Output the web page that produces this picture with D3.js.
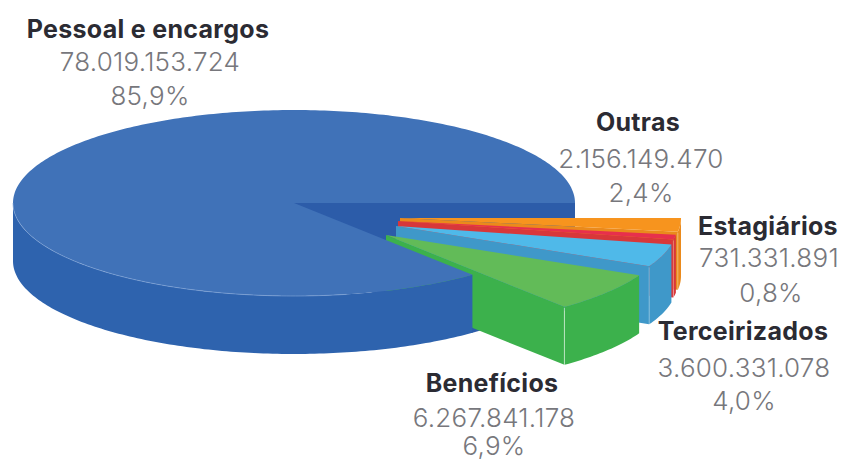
<!DOCTYPE html>
<html>
<head>
<meta charset="utf-8">
<script src="https://cdn.jsdelivr.net/npm/d3@7/dist/d3.min.js"></script>
<style>
html,body{margin:0;padding:0;background:#fff;}
svg{display:block;}
text{font-family:Inter,"Open Sans",sans-serif;text-anchor:middle;}
.name{font-weight:700;font-size:25px;fill:#2b2b33;letter-spacing:0.3px;}
.val{font-weight:300;font-size:26px;fill:#77777c;letter-spacing:0.25px;}
</style>
</head>
<body>
<svg id="chart" width="841" height="461"></svg>
<script>
// Despesas por grupo, em reais, na ordem em que as fatias aparecem no disco
const categories = ["Outras", "Estagiários", "Terceirizados", "Benefícios", "Pessoal e encargos"];
const amounts = [2156149470, 731331891, 3600331078, 6267841178, 78019153724];
const amountLabels = ["2.156.149.470", "731.331.891", "3.600.331.078", "6.267.841.178", "78.019.153.724"];
const shareLabels = ["2,4%", "0,8%", "4,0%", "6,9%", "85,9%"];

// Aparência de cada fatia
const topColors = ["#f7941e", "#e7304c", "#4fb9e9", "#62bb58", "#4072b8"];
const wallColors = ["#ea8a1c", "#d8373a", "#3f98c9", "#3cb14c", "#2e63ae"];
const cutColor = "#2c5ca9";

// Deslocamento do vértice de cada fatia em relação ao centro do disco
const explodeX = [106, 104, 102, 92, 0];
const explodeY = [15, 18, 23, 32, 0];

// Posição dos rótulos: centro e linhas de base
const labelX = [[638, 641, 641], [768, 769, 771], [743, 744, 744], [492, 494, 494], [148, 150, 150]];
const labelY = [[131, 168, 202], [235, 267, 302], [340, 377, 410], [392, 427, 455], [38, 71, 105]];

// Projeção do disco inclinado
const cx = 294, cy = 203, rx = 281, ry = 93, depth = 58;
const svg = d3.select("#chart");

const pie = d3.pie().sort(null).startAngle(0).endAngle(2 * Math.PI);
const arcs = pie(amounts);
const line = d3.line();

const px = (a, dx) => cx + dx + rx * Math.cos(a);
const py = (a, dy) => cy + dy + ry * Math.sin(a);

// Pontos ao longo da borda elíptica entre dois ângulos
function rim(a0, a1, dx, dy, z) {
  const n = Math.max(2, Math.ceil(Math.abs(a1 - a0) * 60));
  return d3.range(n + 1).map(i => {
    const a = a0 + (a1 - a0) * i / n;
    return [px(a, dx), py(a, dy) + z];
  });
}

function wedgeTop(a0, a1, dx, dy) {
  return line([[cx + dx, cy + dy], ...rim(a0, a1, dx, dy, 0)]) + "Z";
}
function outerWall(a0, a1, dx, dy) {
  return line([...rim(a0, a1, dx, dy, 0), ...rim(a1, a0, dx, dy, depth)]) + "Z";
}
function cutWall(a, dx, dy) {
  return line([
    [cx + dx, cy + dy], [px(a, dx), py(a, dy)],
    [px(a, dx), py(a, dy) + depth], [cx + dx, cy + dy + depth]
  ]) + "Z";
}

const main = arcs[4];

// Faces internas do recorte do disco principal
svg.append("path").attr("d", cutWall(main.startAngle, 0, 0)).attr("fill", cutColor);
svg.append("path").attr("d", cutWall(0, 0, 0)).attr("fill", cutColor);
svg.append("path").attr("d", wedgeTop(0, main.startAngle, 0, depth)).attr("fill", cutColor);

// Fatias destacadas, de trás para a frente
arcs.slice(0, 4).forEach((d, i) => {
  const dx = explodeX[i], dy = explodeY[i];
  const g = svg.append("g");
  g.append("path").attr("d", cutWall(d.endAngle, dx, dy)).attr("fill", wallColors[i]);
  g.append("path").attr("d", outerWall(d.startAngle, d.endAngle, dx, dy)).attr("fill", wallColors[i]);
  g.append("path").attr("d", wedgeTop(d.startAngle, d.endAngle, dx, dy)).attr("fill", topColors[i]);
  // Aresta clara na quina frontal
  g.append("line")
    .attr("x1", px(d.endAngle, dx)).attr("x2", px(d.endAngle, dx))
    .attr("y1", py(d.endAngle, dy) + 1).attr("y2", py(d.endAngle, dy) + depth)
    .attr("stroke", "#ffffff").attr("stroke-opacity", i === 3 ? 0.55 : 0.3).attr("stroke-width", 1);
});

// Disco principal, por cima das fatias
const front = Math.PI;
svg.append("path").attr("d", outerWall(main.startAngle, front, 0, 0)).attr("fill", wallColors[4]);
svg.append("path").attr("d", wedgeTop(main.startAngle, main.endAngle, 0, 0)).attr("fill", topColors[4]);
svg.append("path")
  .attr("d", line(rim(main.startAngle + 0.5, front, 0, 0, 0)))
  .attr("fill", "none").attr("stroke", "#86a9da").attr("stroke-opacity", 0.6).attr("stroke-width", 1);

// Rótulos: nome, valor e percentual
categories.forEach((name, i) => {
  svg.append("text").attr("class", "name").attr("x", labelX[i][0]).attr("y", labelY[i][0]).text(name);
  svg.append("text").attr("class", "val").attr("x", labelX[i][1]).attr("y", labelY[i][1]).text(amountLabels[i]);
  svg.append("text").attr("class", "val").attr("x", labelX[i][2]).attr("y", labelY[i][2]).text(shareLabels[i]);
});
</script>
</body>
</html>
